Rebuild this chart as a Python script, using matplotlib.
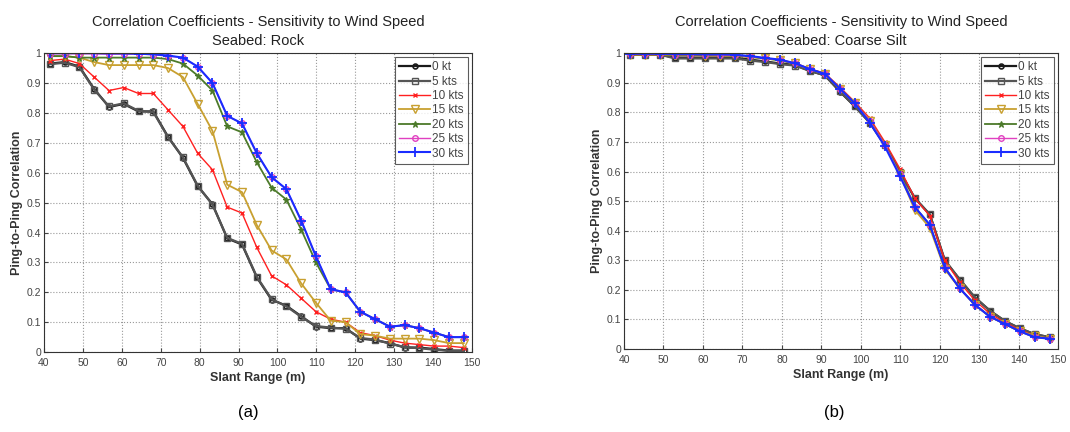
import matplotlib
matplotlib.use('Agg')
import matplotlib.pyplot as plt

plt.rcParams['font.family'] = ['Liberation Sans', 'DejaVu Sans']

slant_range = [41.5, 45.3, 49.1, 52.9, 56.7, 60.5, 64.3, 68.1, 71.9, 75.7,
               79.5, 83.3, 87.1, 90.9, 94.7, 98.5, 102.3, 106.1, 109.9, 113.7,
               117.5, 121.3, 125.1, 128.9, 132.7, 136.5, 140.3, 144.1, 147.9]

labels = ['0 kt', '5 kts', '10 kts', '15 kts', '20 kts', '25 kts', '30 kts']

# seabed: rock
rock_0 = [0.965, 0.97, 0.955, 0.88, 0.82, 0.83, 0.805, 0.805, 0.72, 0.65,
          0.555, 0.495, 0.38, 0.36, 0.25, 0.175, 0.155, 0.12, 0.085, 0.08,
          0.08, 0.045, 0.04, 0.03, 0.015, 0.015, 0.01, 0.005, 0.005]
rock_5 = [0.963, 0.968, 0.953, 0.878, 0.822, 0.832, 0.807, 0.803, 0.718, 0.652,
          0.557, 0.493, 0.382, 0.362, 0.252, 0.177, 0.153, 0.118, 0.087, 0.082,
          0.078, 0.047, 0.042, 0.028, 0.017, 0.013, 0.008, 0.004, 0.004]
rock_10 = [0.975, 0.98, 0.965, 0.92, 0.875, 0.885, 0.865, 0.865, 0.81, 0.755,
           0.665, 0.61, 0.485, 0.465, 0.35, 0.255, 0.225, 0.18, 0.135, 0.11,
           0.1, 0.065, 0.055, 0.04, 0.03, 0.025, 0.02, 0.02, 0.015]
rock_15 = [0.99, 0.99, 0.985, 0.97, 0.96, 0.96, 0.96, 0.96, 0.95, 0.92,
           0.83, 0.74, 0.56, 0.535, 0.425, 0.34, 0.31, 0.23, 0.165, 0.105,
           0.1, 0.06, 0.055, 0.045, 0.045, 0.045, 0.04, 0.03, 0.03]
rock_20 = [0.99, 0.99, 0.985, 0.985, 0.985, 0.985, 0.985, 0.985, 0.98, 0.965,
           0.925, 0.875, 0.755, 0.735, 0.635, 0.55, 0.51, 0.41, 0.30, 0.21,
           0.2, 0.135, 0.11, 0.085, 0.09, 0.08, 0.065, 0.05, 0.05]
rock_25 = [0.998, 0.998, 0.998, 0.998, 0.997, 0.997, 0.997, 0.995, 0.99, 0.985,
           0.955, 0.9, 0.79, 0.765, 0.665, 0.585, 0.545, 0.44, 0.32, 0.21,
           0.2, 0.135, 0.11, 0.085, 0.09, 0.08, 0.065, 0.05, 0.05]
rock_30 = [1.0, 1.0, 1.0, 1.0, 0.999, 0.999, 0.998, 0.996, 0.992, 0.985,
           0.955, 0.9, 0.79, 0.765, 0.665, 0.585, 0.545, 0.44, 0.32, 0.21,
           0.2, 0.135, 0.11, 0.085, 0.09, 0.08, 0.065, 0.05, 0.05]

# seabed: coarse silt
silt_0 = [0.995, 0.995, 0.995, 0.985, 0.985, 0.985, 0.985, 0.985, 0.978, 0.972,
          0.965, 0.96, 0.94, 0.925, 0.87, 0.82, 0.765, 0.69, 0.6, 0.51,
          0.455, 0.3, 0.235, 0.175, 0.13, 0.095, 0.07, 0.05, 0.04]
silt_5 = [0.995, 0.995, 0.995, 0.982, 0.982, 0.982, 0.982, 0.982, 0.975, 0.97,
          0.963, 0.958, 0.94, 0.925, 0.872, 0.82, 0.765, 0.69, 0.6, 0.51,
          0.455, 0.3, 0.235, 0.175, 0.13, 0.095, 0.07, 0.05, 0.04]
silt_10 = [0.995, 0.995, 0.995, 0.993, 0.993, 0.992, 0.992, 0.991, 0.988, 0.983,
           0.977, 0.967, 0.947, 0.932, 0.885, 0.835, 0.78, 0.70, 0.61, 0.51,
           0.45, 0.30, 0.225, 0.165, 0.12, 0.09, 0.065, 0.045, 0.035]
silt_15 = [0.995, 0.995, 0.995, 0.993, 0.993, 0.992, 0.992, 0.991, 0.987, 0.982,
           0.976, 0.965, 0.945, 0.93, 0.88, 0.83, 0.77, 0.69, 0.59, 0.47,
           0.41, 0.27, 0.205, 0.15, 0.11, 0.085, 0.06, 0.045, 0.035]
silt_20 = [0.996, 0.996, 0.996, 0.994, 0.994, 0.993, 0.993, 0.992, 0.988, 0.982,
           0.976, 0.965, 0.945, 0.93, 0.88, 0.83, 0.77, 0.69, 0.595, 0.48,
           0.42, 0.275, 0.205, 0.15, 0.11, 0.085, 0.06, 0.04, 0.035]
silt_25 = [0.997, 0.997, 0.997, 0.995, 0.995, 0.995, 0.994, 0.993, 0.989, 0.983,
           0.977, 0.965, 0.945, 0.93, 0.88, 0.83, 0.77, 0.69, 0.59, 0.48,
           0.42, 0.275, 0.205, 0.15, 0.11, 0.085, 0.06, 0.04, 0.035]
silt_30 = [0.998, 0.998, 0.998, 0.997, 0.997, 0.996, 0.996, 0.995, 0.99, 0.984,
           0.978, 0.966, 0.946, 0.93, 0.88, 0.83, 0.765, 0.685, 0.585, 0.48,
           0.42, 0.275, 0.205, 0.15, 0.11, 0.085, 0.06, 0.04, 0.035]

rock = [rock_0, rock_5, rock_10, rock_15, rock_20, rock_25, rock_30]
silt = [silt_0, silt_5, silt_10, silt_15, silt_20, silt_25, silt_30]

styles = [
    dict(color='#1a1a1a', marker='o', ms=3.5, mfc='none', mew=1.2, lw=1.6),
    dict(color='#555555', marker='s', ms=4.5, mfc='none', mew=1.0, lw=1.6),
    dict(color='#ff2020', marker='x', ms=3, mew=1.0, lw=1.0),
    dict(color='#c8a030', marker='v', ms=6, mfc='none', mew=1.0, lw=1.3),
    dict(color='#4c7a2a', marker='*', ms=5, mew=0.8, lw=1.3),
    dict(color='#e040c0', marker='o', ms=4, mfc='none', mew=1.0, lw=1.0),
    dict(color='#1a2cff', marker='+', ms=6.5, mew=1.3, lw=1.5),
]

fig = plt.figure(figsize=(10.7, 4.32), dpi=100)
ax1 = fig.add_axes([0.0411, 0.185, 0.40, 0.692])
ax2 = fig.add_axes([0.5832, 0.192, 0.4056, 0.685])

def draw(ax, data, seabed):
    for y, lab, st in zip(data, labels, styles):
        ax.plot(slant_range, y, label=lab, clip_on=True, **st)
    ax.set_xlim(40, 150)
    ax.set_ylim(0, 1)
    ax.set_xticks(range(40, 151, 10))
    ax.set_yticks([0, 0.1, 0.2, 0.3, 0.4, 0.5, 0.6, 0.7, 0.8, 0.9, 1])
    ax.set_yticklabels(['0', '0.1', '0.2', '0.3', '0.4', '0.5', '0.6', '0.7', '0.8', '0.9', '1'])
    ax.tick_params(labelsize=7.5, colors='#444444', direction='in', length=3)
    ax.tick_params(axis='x', pad=4)
    ax.tick_params(axis='y', pad=2)
    ax.grid(True, linestyle=':', color='#999999', lw=0.8)
    for s in ax.spines.values():
        s.set_color('#333333')
        s.set_linewidth(0.8)
    ax.set_title('Correlation Coefficients - Sensitivity to Wind Speed\nSeabed: ' + seabed,
                 fontsize=10.5, color='#222222', pad=6, linespacing=1.45)
    ax.set_xlabel('Slant Range (m)', fontsize=9, fontweight='bold', color='#333333', labelpad=3)
    ax.set_ylabel('Ping-to-Ping Correlation', fontsize=9, fontweight='bold', color='#333333', labelpad=3)
    leg = ax.legend(loc='upper right', fontsize=8.5, frameon=True, fancybox=False,
                    handlelength=2.6, handletextpad=0.2, labelspacing=0.2,
                    borderpad=0.35, borderaxespad=0.35)
    leg.get_frame().set_edgecolor('#333333')
    leg.get_frame().set_linewidth(0.8)
    for t in leg.get_texts():
        t.set_color('#444444')

draw(ax1, rock, 'Rock')
draw(ax2, silt, 'Coarse Silt')

fig.text(0.232, 0.035, '(a)', fontsize=12, ha='center')
fig.text(0.780, 0.035, '(b)', fontsize=12, ha='center')

fig.savefig('out.png', dpi=100)
